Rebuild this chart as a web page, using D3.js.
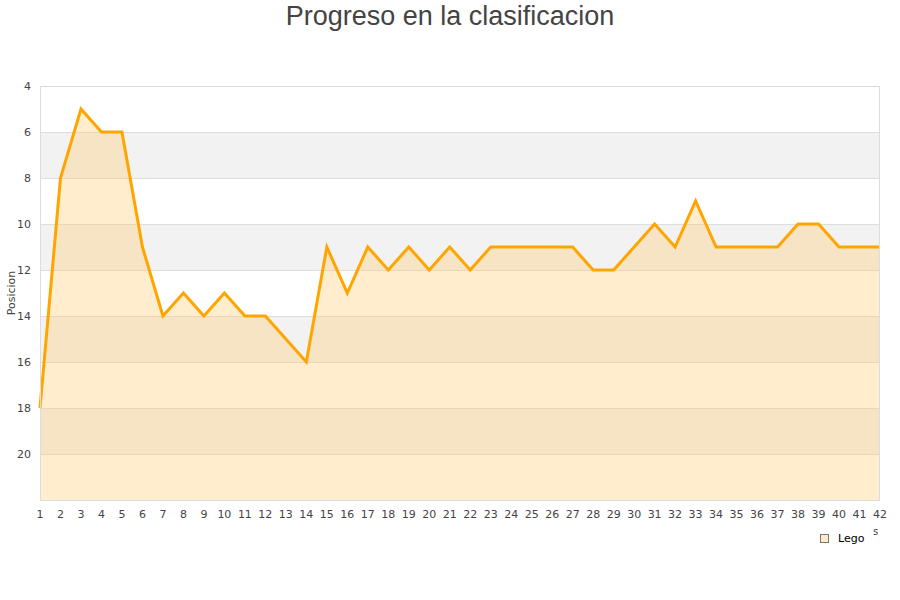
<!DOCTYPE html>
<html><head><meta charset="utf-8">
<script src="https://cdn.jsdelivr.net/npm/d3@7"></script>
<style>body{margin:0;background:#fff;font-family:"DejaVu Sans",sans-serif;}</style>
</head><body><svg id="c" width="900" height="600"></svg>
<script>
const title = "Progreso en la clasificacion";
const seriesName = "Lego";
const yLabel = "Posicion";
const jornadas = d3.range(1, 43);
const posiciones = [18,8,5,6,6,11,14,13,14,13,14,14,15,16,11,13,11,12,11,12,11,12,11,11,11,11,11,12,12,11,10,11,9,11,11,11,11,10,10,11,11,11];
const yTicks = [4,6,8,10,12,14,16,18,20];

const svg = d3.select("#c");
const m = {l:40, r:880, t:86, b:500};
const x = d3.scaleLinear().domain([1,42]).range([m.l, m.r]);
const y = d3.scaleLinear().domain([4,22]).range([m.t, m.b]);

// bands
const bandStarts = d3.range(4, 22, 2);
svg.selectAll("rect.band").data(bandStarts).enter().append("rect")
  .attr("x", m.l).attr("width", m.r-m.l)
  .attr("y", d=>y(d)).attr("height", d=>y(d+2)-y(d))
  .attr("fill", (d,i)=> i%2 ? "#f2f2f2" : "#ffffff");
// grid
svg.selectAll("line.grid").data(d3.range(6,22,2)).enter().append("line")
  .attr("x1", m.l).attr("x2", m.r).attr("y1", d=>y(d)).attr("y2", d=>y(d))
  .attr("stroke", "#dddddd").attr("stroke-width", 1).attr("shape-rendering","crispEdges");

const data = jornadas.map((j,i)=>({j, p: posiciones[i]}));
svg.append("path").datum(data)
  .attr("d", d3.area().x(d=>x(d.j)).y0(y(22)).y1(d=>y(d.p)))
  .attr("fill", "rgb(255,200,100)").attr("fill-opacity", 0.32);
svg.append("path").datum(data)
  .attr("d", d3.line().x(d=>x(d.j)).y(d=>y(d.p)))
  .attr("fill", "none").attr("stroke", "#ffa500").attr("stroke-width", 3).attr("stroke-linejoin","miter");

// border
svg.append("rect").attr("x", m.l+0.5).attr("y", m.t+0.5).attr("width", m.r-m.l-1).attr("height", m.b-m.t)
  .attr("fill","none").attr("stroke","#dddddd");

// y tick labels
svg.selectAll("text.yt").data(yTicks).enter().append("text")
  .attr("x", 31).attr("y", d=>y(d)+4).attr("text-anchor","end")
  .attr("font-size", 11).attr("fill","#444").text(d=>d);
// x tick labels
svg.selectAll("text.xt").data(jornadas).enter().append("text")
  .attr("x", d=>x(d)).attr("y", 518).attr("text-anchor","middle")
  .attr("font-size", 11).attr("fill","#444").text(d=>d);

svg.append("text").attr("transform","translate(15,293) rotate(-90)")
  .attr("text-anchor","middle").attr("font-size",11).attr("fill","#444").text(yLabel);

svg.append("text").attr("x",450).attr("y",25).attr("text-anchor","middle")
  .attr("font-family","'Liberation Sans',Arial,sans-serif").attr("font-size",27).attr("fill","#444").text(title);

// legend
svg.append("rect").attr("x",820.5).attr("y",534.5).attr("width",8).attr("height",8)
  .attr("fill","#fdebc9").attr("stroke","#777");
svg.append("text").attr("x",838).attr("y",542).attr("font-size",11).attr("fill","#000").text(seriesName);
svg.append("text").attr("x",873).attr("y",535).attr("font-size",10).attr("fill","#444").text("s");
</script></body></html>
